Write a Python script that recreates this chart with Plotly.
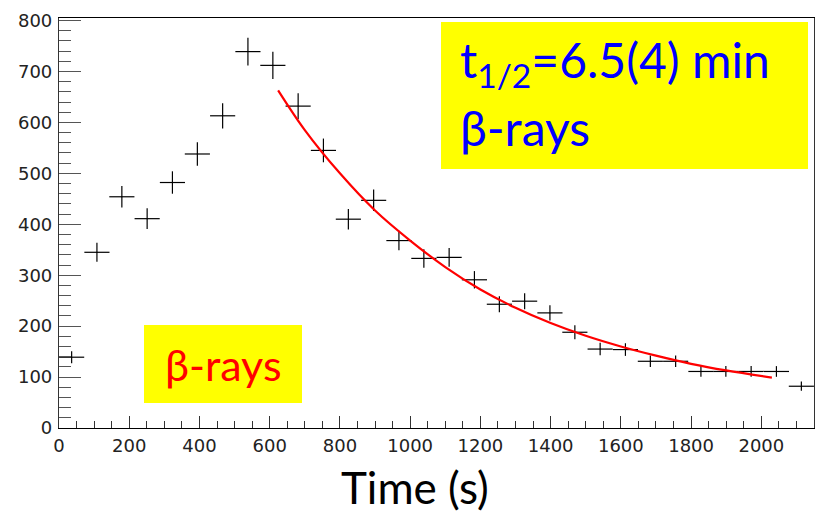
import plotly.graph_objects as go

# ---- data ----
time_s = [36, 108, 179, 251, 323, 394, 466, 538, 609, 681, 753, 824, 896, 968, 1039,
          1111, 1183, 1254, 1326, 1398, 1469, 1541, 1613, 1684, 1756, 1828, 1899, 1971, 2043, 2114]
counts = [139, 345, 454, 411, 482, 538, 613, 739, 712, 632, 545, 410, 447, 368, 333,
          335, 291, 243, 249, 226, 188, 155, 154, 131, 131, 111, 111, 111, 111, 82]
count_err = [11.8, 18.6, 21.3, 20.3, 22.0, 23.2, 24.8, 27.2, 26.7, 25.1, 23.3, 20.2, 21.1, 19.2, 18.2,
             18.3, 17.1, 15.6, 15.8, 15.0, 13.7, 12.4, 12.4, 11.4, 11.4, 10.5, 10.5, 10.5, 10.5, 9.1]
bin_half_width = 35.8

fit_t = [624, 700, 800, 900, 1000, 1100, 1200, 1300, 1400, 1500, 1600, 1700, 1800, 1900, 2030]
fit_v = [663, 585, 500, 427, 368, 316, 272, 236, 206, 181, 160, 142, 126, 113, 99]

x_ticks = [0, 200, 400, 600, 800, 1000, 1200, 1400, 1600, 1800, 2000]
y_ticks = [0, 100, 200, 300, 400, 500, 600, 700, 800]

W, H = 817, 512
L, R, T, B = 59, 3, 18, 84
PW, PH = W - L - R, H - T - B


def px(xp):
    return (xp - L) / PW


def py(yp):
    return (H - B - yp) / PH


fig = go.Figure()

fig.add_trace(go.Scatter(
    x=time_s, y=counts, mode="markers",
    marker=dict(size=1, color="black"),
    error_y=dict(type="data", array=count_err, color="black", thickness=1.2, width=0),
    error_x=dict(type="constant", value=bin_half_width, color="black", thickness=1.2, width=0),
    showlegend=False, hoverinfo="x+y",
))

fig.add_trace(go.Scatter(
    x=fit_t, y=fit_v, mode="lines",
    line=dict(color="#ff0000", width=2.2, shape="spline"),
    showlegend=False,
))

tickfont = dict(family="DejaVu Sans", size=18, color="#222")

fig.update_xaxes(
    range=[0, 2150], tickvals=x_ticks, ticks="inside", ticklen=12, tickwidth=1, tickcolor="#333",
    minor=dict(dtick=50, ticks="inside", ticklen=7, tickwidth=1, tickcolor="#333"),
    showline=True, linecolor="black", linewidth=1, mirror=True,
    showgrid=False, zeroline=False, tickfont=tickfont, ticklabelstandoff=1, automargin=False,
)
fig.update_yaxes(
    range=[0, 805], tickvals=y_ticks, ticks="inside", ticklen=22, tickwidth=1.2, tickcolor="#555",
    minor=dict(dtick=20, ticks="inside", ticklen=12, tickwidth=1.2, tickcolor="#555"),
    showline=True, linecolor="#333", linewidth=1.2, mirror=True,
    showgrid=False, zeroline=False, tickfont=tickfont, ticklabelstandoff=2, automargin=False,
)

shapes = [
    dict(type="rect", xref="paper", yref="paper", x0=px(441), x1=px(808), y0=py(169), y1=py(22),
         fillcolor="#ffff00", line=dict(width=0), layer="above"),
    dict(type="rect", xref="paper", yref="paper", x0=px(144), x1=px(302), y0=py(403), y1=py(325),
         fillcolor="#ffff00", line=dict(width=0), layer="above"),
]

anns = [
    dict(xref="paper", yref="paper", x=px(458), y=py(63), xanchor="left", yanchor="middle",
         text="t<sub>1/2</sub>=6.5(4) min", showarrow=False,
         font=dict(family="Lato", size=48, color="#0000ff")),
    dict(xref="paper", yref="paper", x=px(458), y=py(127), xanchor="left", yanchor="middle",
         text="β-rays", showarrow=False,
         font=dict(family="Lato", size=48, color="#0000ff")),
    dict(xref="paper", yref="paper", x=px(163), y=py(364), xanchor="left", yanchor="middle",
         text="β-rays", showarrow=False,
         font=dict(family="Lato", size=43, color="#ff0000")),
    dict(xref="paper", yref="paper", x=px(415), y=py(487), xanchor="center", yanchor="middle",
         text="Time (s)", showarrow=False,
         font=dict(family="Lato", size=44, color="black")),
]

fig.update_layout(
    width=W, height=H, margin=dict(l=L, r=R, t=T, b=B, autoexpand=False),
    paper_bgcolor="white", plot_bgcolor="white",
    shapes=shapes, annotations=anns,
)

fig.write_html("out.html", config={"displayModeBar": False},
               post_script="document.body.style.margin='0';document.body.style.overflow='hidden';")
